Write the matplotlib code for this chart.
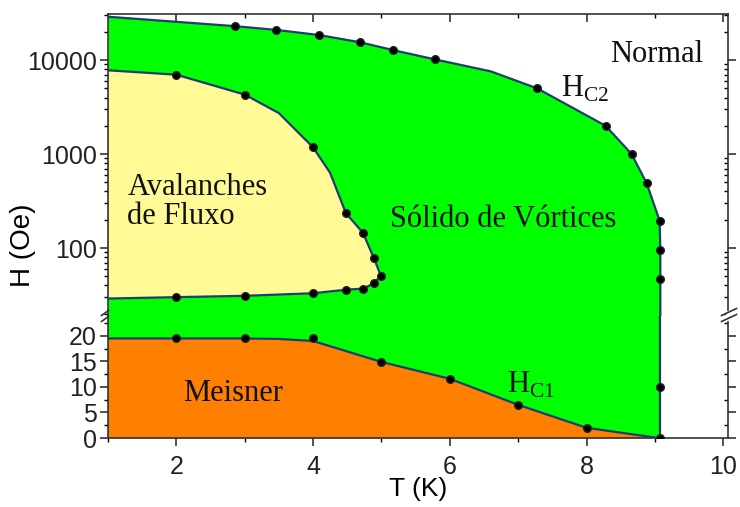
import numpy as np
import matplotlib
matplotlib.use('Agg')
import matplotlib.pyplot as plt
from matplotlib.ticker import FixedLocator, MultipleLocator, LogLocator, NullFormatter, FuncFormatter

plt.rcParams['font.family'] = ['Liberation Sans', 'DejaVu Sans']
plt.rcParams['mathtext.fontset'] = 'custom'
plt.rcParams['mathtext.rm'] = 'Liberation Serif'

# Hc2 (borda do estado normal); o primeiro ponto so fecha a curva em T=1
hc2_T = [1.0, 2.86, 3.46, 4.09, 4.69, 5.17, 5.78, 6.6, 7.28, 8.28, 8.66, 8.88, 9.07, 9.08, 9.08, 9.08, 9.08]
hc2_H = [29000, 23000, 21000, 18500, 15500, 12800, 10200, 7600, 5000, 2000, 1000, 490, 195, 95, 47, 10, 0]
hc2_pts = [False, True, True, True, True, True, True, False, True, True, True, True, True, True, True, True, True]

# regiao de avalanches de fluxo (contorno fechado)
av_T = [1.0, 2.0, 3.0, 3.5, 4.0, 4.25, 4.48, 4.73, 4.89, 4.99, 4.89, 4.73, 4.48, 4.0, 3.0, 2.0, 1.0]
av_H = [7800, 7000, 4300, 2730, 1180, 630, 235, 145, 78, 51, 42, 37, 36, 33, 31, 30, 29]
av_pts = [False, True, True, False, True, False, True, True, True, True, True, True, True, True, True, True, False]

# Hc1 (borda Meissner)
hc1_T = [1.0, 2.0, 3.0, 3.5, 4.0, 5.0, 6.0, 7.0, 8.0, 9.05]
hc1_H = [19.5, 19.5, 19.5, 19.4, 19.0, 14.9, 11.6, 6.5, 2.0, 0.0]
hc1_mk_T = [2.0, 3.0, 4.0, 5.0, 6.0, 7.0, 8.0]
hc1_mk_H = [19.6, 19.6, 19.6, 14.9, 11.6, 6.5, 2.0]

verde = '#00FF00'
amarelo = '#FFFA96'
laranja = '#FF8000'
linha = '#1F3D6E'

fig = plt.figure(figsize=(7.4, 5.07), dpi=100)
L, R = 108 / 740, 728 / 740
top, mid, bot = 1 - 14 / 507, 1 - 316 / 507, 1 - 438 / 507
ax_top = fig.add_axes([L, mid, R - L, top - mid])
ax_bot = fig.add_axes([L, bot, R - L, mid - bot])

# --- parte de cima (log)
ax_top.set_yscale('log')
ax_top.fill_between(hc2_T[:-1], hc2_H[:-1], 1, color=verde, lw=0)
ax_top.fill(av_T, av_H, color=amarelo, lw=0)
ax_top.plot(hc2_T[:-1], hc2_H[:-1], color=linha, lw=1.6, zorder=3)
ax_top.plot(av_T, av_H, color=linha, lw=1.6, zorder=3)
mk = dict(ls='none', marker='o', ms=5.5, mfc='black', mec='#222222', zorder=4)
ax_top.plot([t for t, p in zip(hc2_T, hc2_pts) if p][:-1], [h for h, p in zip(hc2_H, hc2_pts) if p][:-1], **mk)
ax_top.plot([t for t, p in zip(av_T, av_pts) if p], [h for h, p in zip(av_H, av_pts) if p], **mk)
ax_top.set_xlim(1, 10.07)
ax_top.set_ylim(18.9, 31000)

# --- parte de baixo (linear)
ax_bot.axvspan(1, hc2_T[-1], color=verde, lw=0)
ax_bot.fill_between(hc1_T, hc1_H, 0, color=laranja, lw=0)
ax_bot.plot(hc1_T, hc1_H, color=linha, lw=1.6, zorder=3)
ax_bot.plot(hc2_T, hc2_H, color=linha, lw=1.6, zorder=3)
ax_bot.plot(hc1_mk_T, hc1_mk_H, **mk)
ax_bot.plot(hc2_T[-2:], hc2_H[-2:], **mk)
ax_bot.set_xlim(1, 10.07)
ax_bot.set_ylim(0, 23.9)

for ax in (ax_top, ax_bot):
    for s in ax.spines.values():
        s.set_linewidth(1.2)
        s.set_color('#333333')
ax_top.spines['bottom'].set_visible(False)
ax_bot.spines['top'].set_visible(False)

ax_top.yaxis.set_major_locator(FixedLocator([100, 1000, 10000]))
ax_top.yaxis.set_minor_locator(LogLocator(base=10, subs=np.arange(2, 10)))
ax_top.yaxis.set_major_formatter(FuncFormatter(lambda v, p: '%d' % v))
ax_top.yaxis.set_minor_formatter(NullFormatter())
ax_top.xaxis.set_major_locator(MultipleLocator(2))
ax_top.xaxis.set_minor_locator(MultipleLocator(1))
ax_top.tick_params(axis='x', which='both', bottom=False, top=True, labelbottom=False, direction='in')
ax_top.tick_params(axis='y', which='both', left=True, right=True, direction='out')
ax_top.tick_params(which='major', length=6, width=1.1, labelsize=18, colors='#222222')
ax_top.tick_params(which='minor', length=3, width=1.0)

ax_bot.yaxis.set_major_locator(FixedLocator([0, 5, 10, 15, 20]))
ax_bot.yaxis.set_minor_locator(MultipleLocator(2.5))
ax_bot.xaxis.set_major_locator(MultipleLocator(2))
ax_bot.xaxis.set_minor_locator(MultipleLocator(1))
ax_bot.tick_params(axis='x', which='both', top=False, direction='out')
ax_bot.tick_params(axis='y', which='both', left=True, right=True, direction='out')
ax_bot.tick_params(which='major', length=6, width=1.1, labelsize=18, colors='#222222')
ax_bot.tick_params(which='minor', length=3, width=1.0)
for ax in (ax_top, ax_bot):
    for t in ax.yaxis.get_ticklines(minor=False)[1::2] + ax.yaxis.get_ticklines(minor=True)[1::2]:
        t.set_marker(0)
    ax.yaxis.set_tick_params(pad=2)
ax_bot.xaxis.set_tick_params(pad=6)
ax_bot.set_xlabel('T (K)', fontsize=19, labelpad=-1)
fig.text(23 / 740, 1 - 245 / 507, 'H (Oe)', rotation=90, ha='center', va='center', fontsize=20)

# marcas de quebra do eixo
def quebra(x0, y0, w, h, gap):
    for dy in (-gap / 2, gap / 2):
        fig.add_artist(plt.Line2D([(x0 - w / 2) / 740, (x0 + w / 2) / 740],
                                  [1 - (y0 + dy + h / 2) / 507, 1 - (y0 + dy - h / 2) / 507],
                                  color='#333333', lw=1.2))

fig.add_artist(plt.Line2D([R, R], [1 - 313 / 507, 1 - 319 / 507], color='white', lw=3))
quebra(729, 315, 15, 7, 6)
quebra(105, 316, 7, 5, 6)

# textos
serif = dict(family='Liberation Serif', fontsize=22, color='#111111')
ax_top.text(9.02, 9530, 'Normal', ha='center', va='baseline', **serif)
ax_top.text(7.62, 4040, r'$\mathrm{H}_{\mathrm{C2}}$', ha='left', va='baseline', **serif)
ax_top.text(1.285, 370, 'Avalanches', ha='left', va='baseline', **serif)
ax_top.text(1.285, 180, 'de Fluxo', ha='left', va='baseline', **serif)
ax_top.text(6.78, 167, 'Sólido de Vórtices', ha='center', va='baseline', **serif)
ax_bot.text(2.83, 7.25, 'Meisner', ha='center', va='baseline', **serif)
ax_bot.text(6.83, 8.8, r'$\mathrm{H}_{\mathrm{C1}}$', ha='left', va='baseline', **serif)

fig.savefig('out.png', dpi=100)
